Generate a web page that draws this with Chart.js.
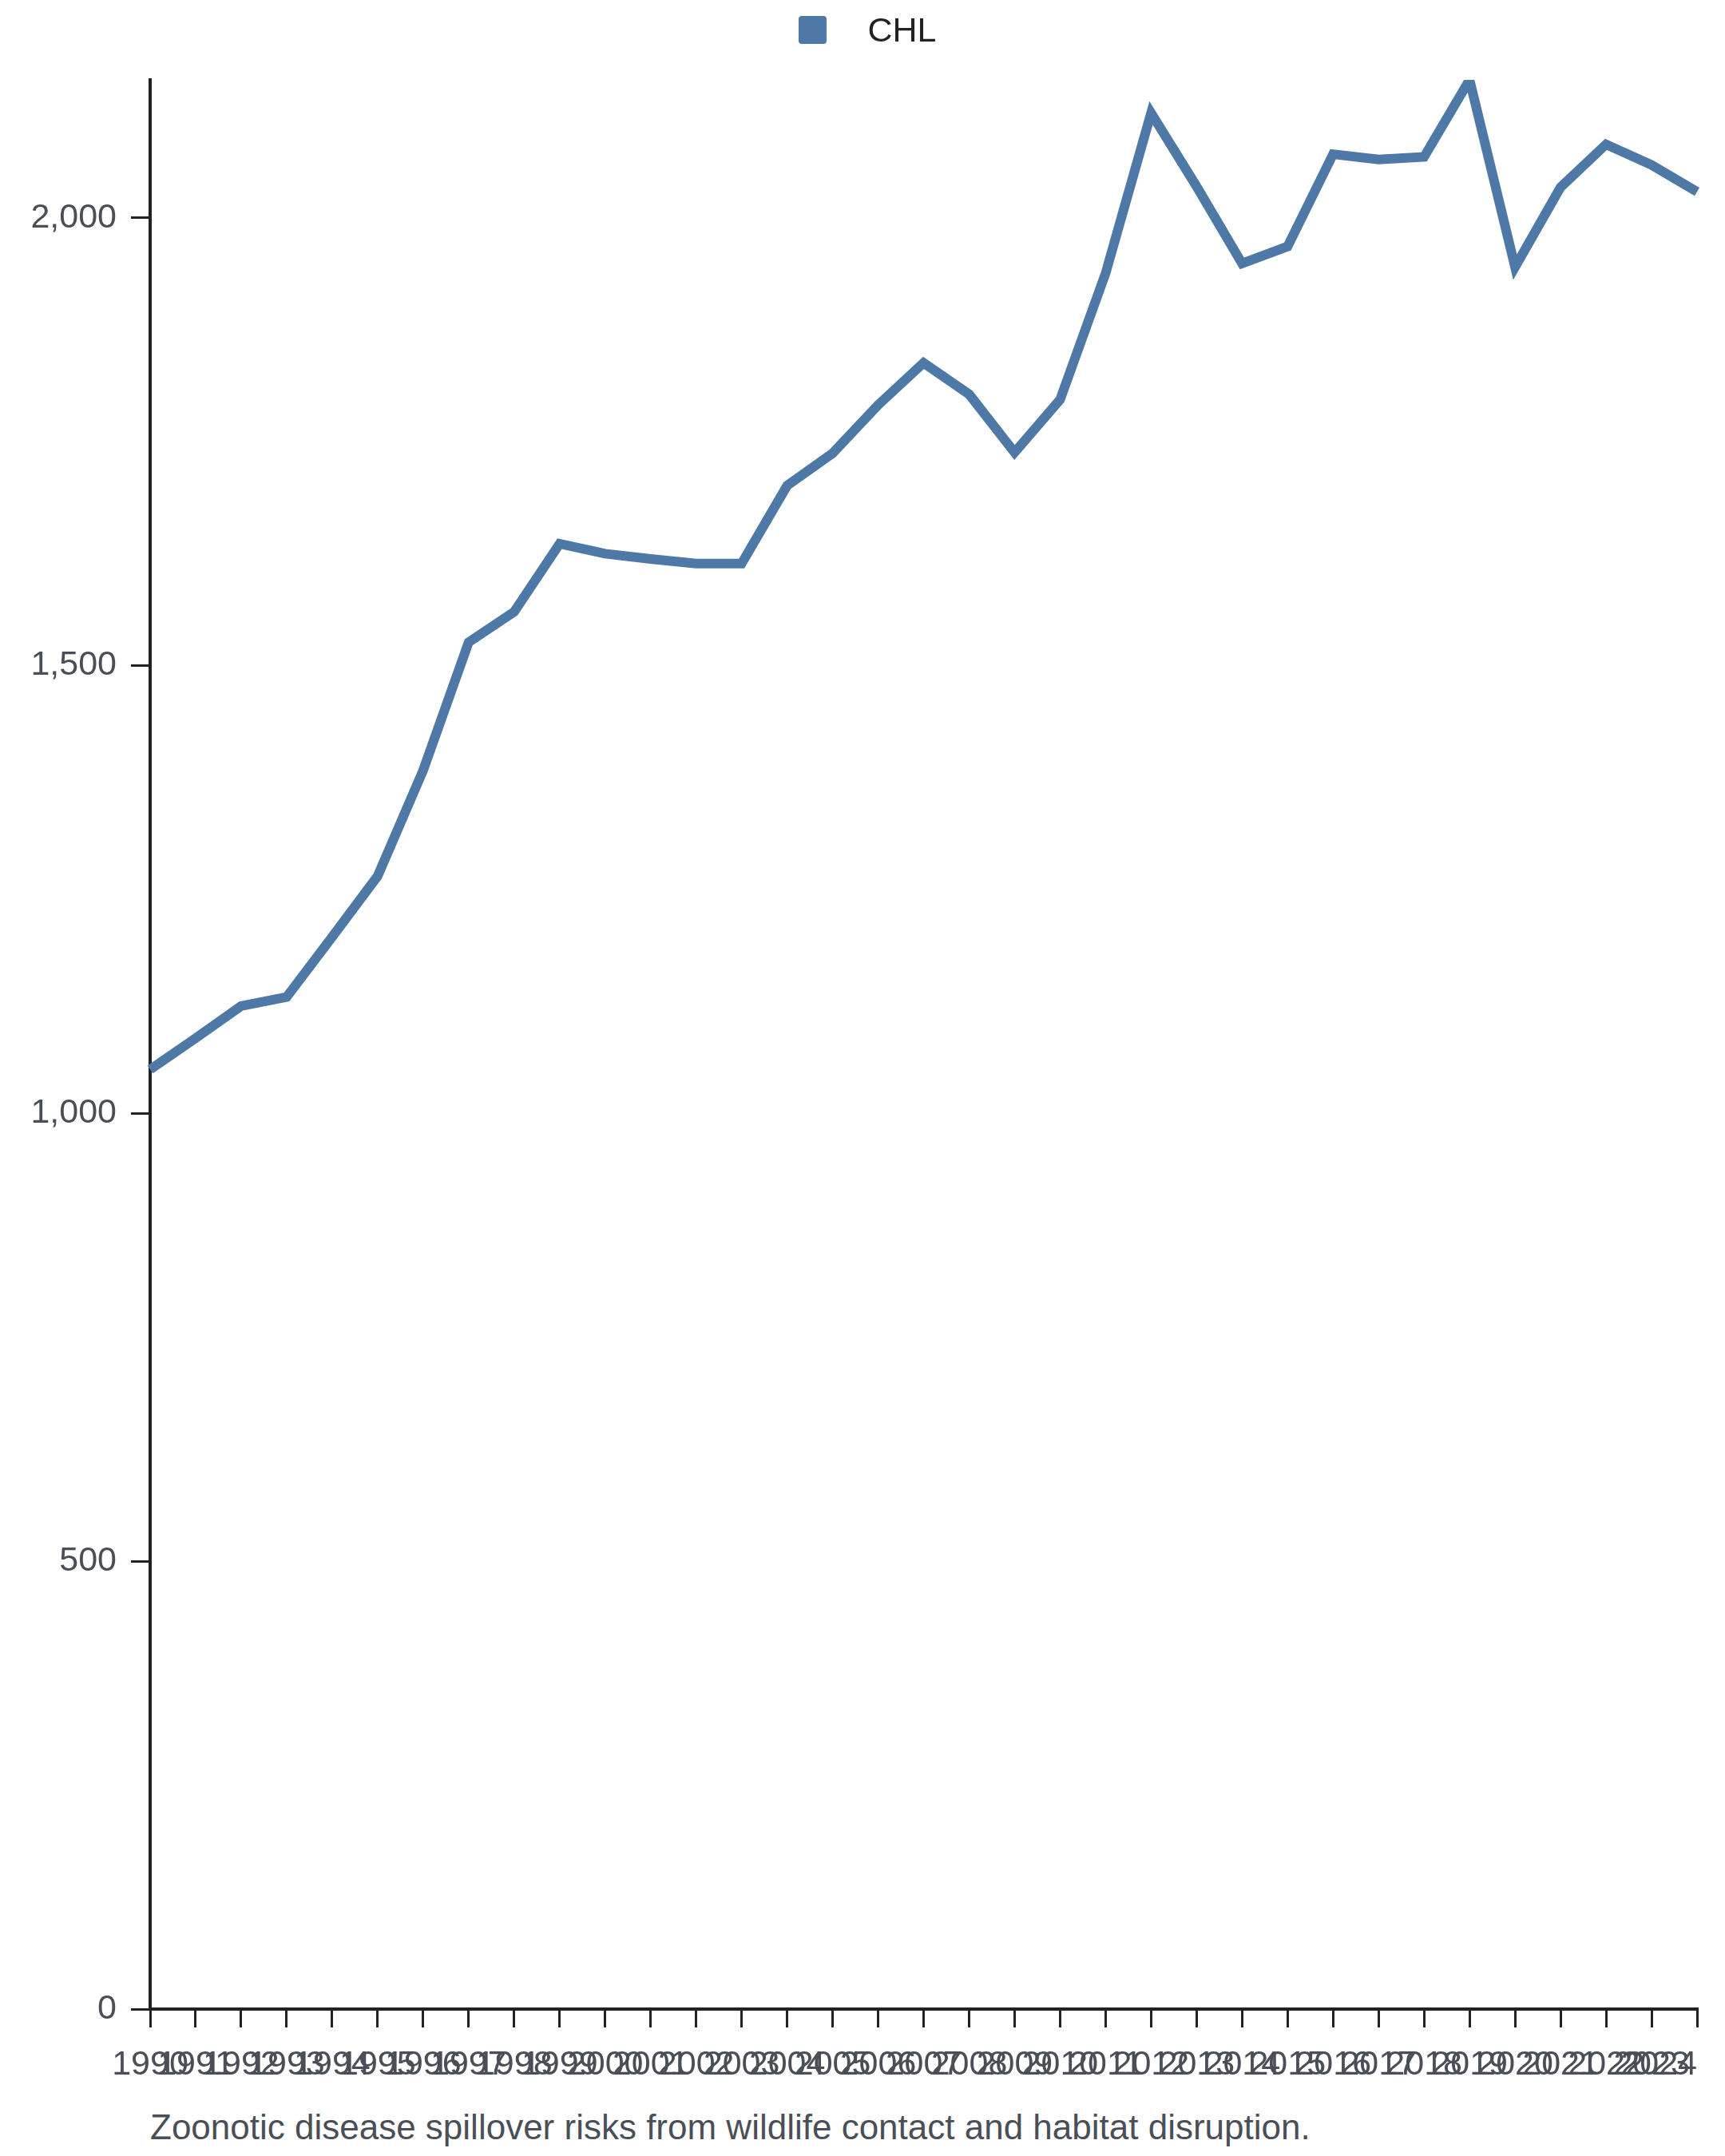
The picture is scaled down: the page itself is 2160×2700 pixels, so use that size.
<!DOCTYPE html>
<html>
<head>
<meta charset="utf-8">
<title>CHL</title>
<script src="https://cdn.jsdelivr.net/npm/chart.js@4.4.1/dist/chart.umd.min.js"></script>
<style>
    body { margin: 0; background: #fff; font-family: "Liberation Sans", Arial, sans-serif; }
    #wrap { position: relative; width: 2160px; height: 2700px; }
    #legend {
        position: absolute; top: 0; left: 0; width: 2160px; height: 75px;
        display: flex; justify-content: center; align-items: center;
    }
    #legend .item { display: flex; align-items: center; margin-left: 13px; }
    #legend .box { width: 35px; height: 35px; border-radius: 4px; margin-right: 51px; }
    #legend .label { font-size: 43px; color: #222; line-height: 43px; }
    #chart { position: absolute; top: 0; left: 0; }
    #caption {
        position: absolute; left: 188px; top: 2642px;
        font-size: 44px; line-height: 44px; color: #4a4f57; white-space: nowrap;
    }
</style>
</head>
<body>
<div id="wrap">
    <canvas id="chart" width="2160" height="2630"></canvas>
    <div id="legend"></div>
    <div id="caption">Zoonotic disease spillover risks from wildlife contact and habitat disruption.</div>
</div>
<script>
// Chart data
const years = ['1990', '1991', '1992', '1993', '1994', '1995', '1996', '1997', '1998', '1999',
    '2000', '2001', '2002', '2003', '2004', '2005', '2006', '2007', '2008', '2009',
    '2010', '2011', '2012', '2013', '2014', '2015', '2016', '2017', '2018', '2019',
    '2020', '2021', '2022', '2023', '2024'];
const chlValues = [1049, 1084, 1120, 1130, 1197, 1265, 1383, 1526, 1560, 1636,
    1625, 1619, 1614, 1614, 1701, 1737, 1791, 1838, 1803, 1738,
    1797, 1938, 2117, 2035, 1949, 1968, 2071, 2065, 2068, 2154,
    1945, 2034, 2082, 2059, 2029];
const yTickValues = [0, 500, 1000, 1500, 2000];
const seriesName = 'CHL';

const lineColor = '#4e79a7';
const axisColor = '#222';
const tickColor = '#4a4f57';
const fontFamily = '"Liberation Sans", Arial, sans-serif';

// plot box edges in canvas pixels
const yAxisWidth = 188;
const xAxisHeight = 114;

function buildLegend(chart) {
    const legend = document.getElementById('legend');
    legend.innerHTML = '';
    chart.data.datasets.forEach(ds => {
        const item = document.createElement('div');
        item.className = 'item';
        item.innerHTML = `<span class="box" style="background:${ds.borderColor}"></span><span class="label">${ds.label}</span>`;
        legend.appendChild(item);
    });
}

// last year label sits flush left of the final tick, as in the original
const lastLabelEnd = {
    id: 'lastLabelEnd',
    beforeDraw(chart) {
        const items = chart.scales.x.getLabelItems();
        if (items.length) items[items.length - 1].options.textAlign = 'right';
    }
};

const chart = new Chart(document.getElementById('chart'), {
    type: 'line',
    data: {
        labels: years,
        datasets: [{
            label: seriesName,
            data: chlValues,
            borderColor: lineColor,
            backgroundColor: lineColor,
            borderWidth: 12,
            pointRadius: 0,
            tension: 0,
            fill: false
        }]
    },
    plugins: [lastLabelEnd],
    options: {
        responsive: false,
        animation: false,
        devicePixelRatio: 1,
        layout: {
            padding: { top: 100, left: 0, right: 35, bottom: 0 }
        },
        plugins: {
            legend: { display: false },
            tooltip: { enabled: false }
        },
        scales: {
            x: {
                offset: false,
                afterFit: scale => {
                    scale.height = xAxisHeight;
                    scale.paddingRight = 0;
                },
                grid: {
                    display: true,
                    drawOnChartArea: false,
                    drawTicks: true,
                    tickLength: 23,
                    color: axisColor,
                    lineWidth: 3
                },
                border: { display: true, color: axisColor, width: 4 },
                ticks: {
                    autoSkip: false,
                    maxRotation: 0,
                    minRotation: 0,
                    padding: 21,
                    color: tickColor,
                    font: { family: fontFamily, size: 43 }
                }
            },
            y: {
                min: 0,
                max: Math.max(...chlValues),
                afterBuildTicks: scale => {
                    scale.ticks = yTickValues.map(v => ({ value: v }));
                },
                afterFit: scale => {
                    scale.width = yAxisWidth;
                },
                grid: {
                    display: true,
                    drawOnChartArea: false,
                    drawTicks: true,
                    tickLength: 24,
                    color: axisColor,
                    lineWidth: 3
                },
                border: { display: true, color: axisColor, width: 4 },
                ticks: {
                    autoSkip: false,
                    padding: 18,
                    color: tickColor,
                    font: { family: fontFamily, size: 43 },
                    callback: v => Number(v).toLocaleString('en-US')
                }
            }
        }
    }
});

buildLegend(chart);
</script>
</body>
</html>
